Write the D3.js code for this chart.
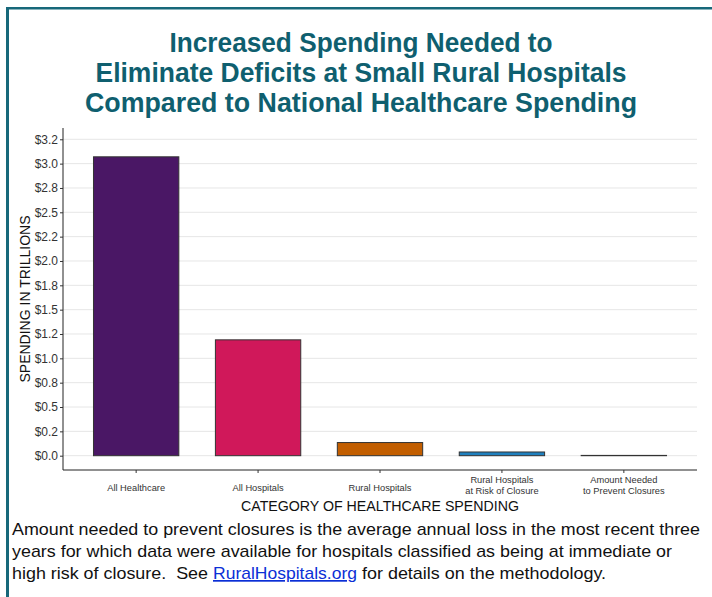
<!DOCTYPE html>
<html>
<head>
<meta charset="utf-8">
<script src="https://cdn.jsdelivr.net/npm/d3@7"></script>
<style>
  html, body { margin: 0; padding: 0; background: #fff; }
  svg { display: block; }
</style>
</head>
<body>
<svg id="chart" width="712" height="597"></svg>
<script>
const categories = ['All Healthcare', 'All Hospitals', 'Rural Hospitals',
                    'Rural Hospitals\nat Risk of Closure', 'Amount Needed\nto Prevent Closures'];
const spending = [3.07, 1.19, 0.135, 0.038, 0.003];
const barColors = ['#4a1765', '#d0185a', '#c25e00', '#1f80be', '#444444'];
const tickValues = [0, 0.25, 0.5, 0.75, 1, 1.25, 1.5, 1.75, 2, 2.25, 2.5, 2.75, 3, 3.25];
const tickLabels = ['$0.0', '$0.2', '$0.5', '$0.8', '$1.0', '$1.2', '$1.5', '$1.8',
                    '$2.0', '$2.2', '$2.5', '$2.8', '$3.0', '$3.2'];
const titleLines = ['Increased Spending Needed to',
                    'Eliminate Deficits at Small Rural Hospitals',
                    'Compared to National Healthcare Spending'];

const svg = d3.select('#chart');
const teal = '#17687a';
const sans = '"Liberation Sans", Arial, sans-serif';

// frame
svg.append('line').attr('x1', 7.5).attr('x2', 7.5).attr('y1', 7).attr('y2', 597)
    .attr('stroke', teal).attr('stroke-width', 3);
svg.append('line').attr('x1', 6).attr('x2', 712).attr('y1', 8.2).attr('y2', 8.2)
    .attr('stroke', teal).attr('stroke-width', 2.6);

// title
const titleWidths = [383, 531, 552];
svg.selectAll('text.title')
    .data(titleLines)
    .enter().append('text')
        .attr('class', 'title')
        .attr('x', 361)
        .attr('y', (d, i) => 52 + i * 30)
        .attr('text-anchor', 'middle')
        .attr('textLength', (d, i) => titleWidths[i])
        .attr('lengthAdjust', 'spacingAndGlyphs')
        .style('font-family', sans)
        .style('font-weight', 'bold')
        .style('font-size', '27px')
        .style('fill', '#0f5f6f')
        .text(d => d);

// plot area
const plotLeft = 63, plotRight = 697, plotTop = 128, plotBottom = 470;

const y = d3.scaleLinear()
            .domain([-0.147, 3.366])
            .range([plotBottom, plotTop]);

const x = d3.scaleBand()
            .domain(categories)
            .range([plotLeft, plotRight])
            .paddingInner(0.3)
            .paddingOuter(0.25);

// grid
svg.append('g')
    .selectAll('line')
    .data(tickValues)
    .enter().append('line')
        .attr('x1', plotLeft).attr('x2', plotRight)
        .attr('y1', d => y(d)).attr('y2', d => y(d))
        .attr('stroke', '#e6e6e6').attr('stroke-width', 1);

// bars
svg.append('g')
    .selectAll('rect')
    .data(spending)
    .enter().append('rect')
        .attr('x', (d, i) => x(categories[i]))
        .attr('width', x.bandwidth())
        .attr('y', d => y(d))
        .attr('height', d => Math.max(0, y(0) - y(d)))
        .style('fill', (d, i) => barColors[i])
        .style('stroke', '#333')
        .style('stroke-width', 1);

// y axis
const yAxis = d3.axisLeft(y)
                .tickValues(tickValues)
                .tickFormat((d, i) => tickLabels[i])
                .tickSize(3)
                .tickPadding(2);
const gy = svg.append('g').attr('transform', 'translate(' + plotLeft + ',0)').call(yAxis);
gy.select('.domain').attr('d', 'M0,' + plotTop + 'V' + plotBottom).attr('stroke', '#222');
gy.selectAll('.tick line').attr('stroke', '#333');
gy.selectAll('.tick text')
    .style('font-family', sans)
    .style('font-size', '12px')
    .style('fill', '#333');

// x axis
const xAxis = d3.axisBottom(x).tickSize(3).tickFormat('');
const gx = svg.append('g').attr('transform', 'translate(0,' + plotBottom + ')').call(xAxis);
gx.select('.domain').attr('d', 'M' + plotLeft + ',0H' + plotRight).attr('stroke', '#222');
gx.selectAll('.tick line').attr('stroke', '#333');

svg.append('g')
    .selectAll('text')
    .data(categories)
    .enter().append('text')
        .attr('x', d => x(d) + x.bandwidth() / 2)
        .attr('text-anchor', 'middle')
        .style('font-family', sans)
        .style('font-size', '9.3px')
        .style('fill', '#333')
        .each(function(d) {
            const lines = d.split('\n');
            const el = d3.select(this);
            lines.forEach((line, j) => {
                el.append('tspan')
                    .attr('x', x(d) + x.bandwidth() / 2)
                    .attr('y', lines.length === 1 ? 491 : 483 + j * 11)
                    .text(line);
            });
        });

// axis titles
svg.append('text')
    .attr('x', 380).attr('y', 511)
    .attr('text-anchor', 'middle')
    .style('font-family', sans)
    .style('font-size', '14.2px')
    .style('fill', '#111')
    .text('CATEGORY OF HEALTHCARE SPENDING');

svg.append('text')
    .attr('transform', 'translate(29.5,' + ((plotTop + plotBottom) / 2) + ') rotate(-90)')
    .attr('text-anchor', 'middle')
    .style('font-family', sans)
    .style('font-size', '14px')
    .style('fill', '#111')
    .text('SPENDING IN TRILLIONS');

// footnote
const note = [
    { text: 'Amount needed to prevent closures is the average annual loss in the most recent three', x: 12, y: 535, w: 688 },
    { text: 'years for which data were available for hospitals classified as being at immediate or', x: 12, y: 557, w: 660 },
    { text: 'high risk of closure.  See', x: 12, y: 579, w: 196 },
    { text: 'for details on the methodology.', x: 362, y: 579, w: 244 }
];
svg.selectAll('text.note')
    .data(note)
    .enter().append('text')
        .attr('class', 'note')
        .attr('x', d => d.x).attr('y', d => d.y)
        .attr('textLength', d => d.w)
        .attr('lengthAdjust', 'spacingAndGlyphs')
        .style('font-family', sans)
        .style('font-size', '17px')
        .style('fill', '#111')
        .style('white-space', 'pre')
        .text(d => d.text);

svg.append('text')
    .attr('x', 213).attr('y', 579)
    .attr('textLength', 144)
    .attr('lengthAdjust', 'spacingAndGlyphs')
    .style('font-family', sans)
    .style('font-size', '17px')
    .style('fill', '#0b2fd6')
    .style('text-decoration', 'underline')
    .text('RuralHospitals.org');
</script>
</body>
</html>
